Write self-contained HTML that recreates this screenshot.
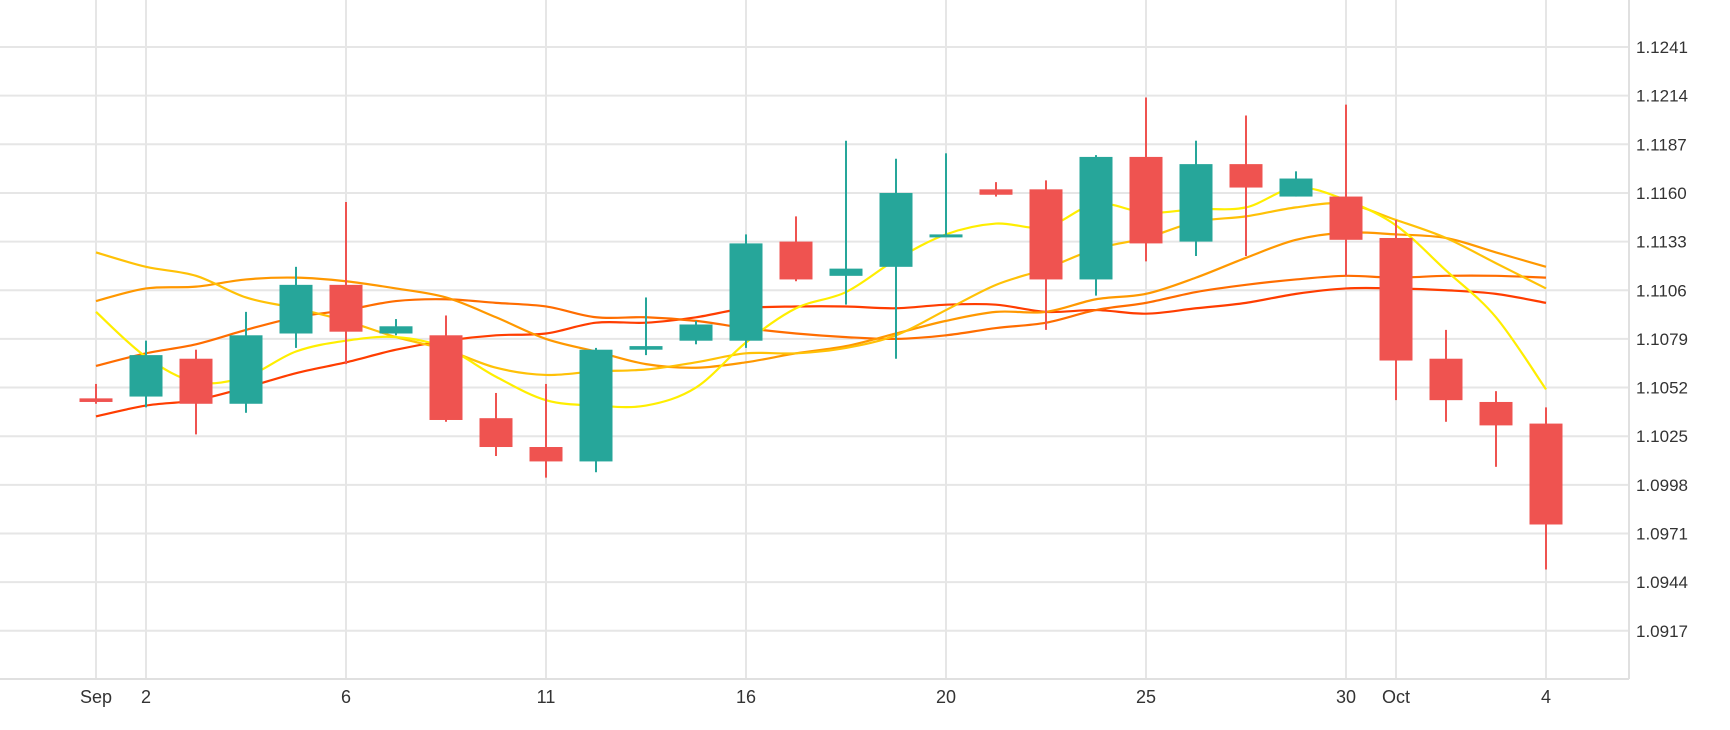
<!DOCTYPE html>
<html><head><meta charset="utf-8"><style>
html,body{margin:0;padding:0;background:#fff;}
svg{display:block;font-family:"Liberation Sans",sans-serif;}
</style></head><body>
<svg id="chart" width="1730" height="730" viewBox="0 0 1730 730" xmlns="http://www.w3.org/2000/svg">
<g id="grid"></g>
<g id="lines"></g>
<g id="candles"></g>
<g id="axes"></g>
</svg>
<script>
const xLabels = {0:"Sep",1:"2",5:"6",9:"11",13:"16",17:"20",21:"25",25:"30",26:"Oct",29:"4"};
const yTicks = [1.1241,1.1214,1.1187,1.1160,1.1133,1.1106,1.1079,1.1052,1.1025,1.0998,1.0971,1.0944,1.0917];
const opens  = [1.1046,1.1047,1.1068,1.1043,1.1082,1.1109,1.1082,1.1081,1.1035,1.1019,1.1011,1.1073,1.1078,1.1078,1.1133,1.1114,1.1119,1.1136,1.1162,1.1162,1.1112,1.1180,1.1133,1.1176,1.1158,1.1158,1.1135,1.1068,1.1044,1.1032];
const highs  = [1.1054,1.1078,1.1073,1.1094,1.1119,1.1155,1.1090,1.1092,1.1049,1.1054,1.1074,1.1102,1.1089,1.1137,1.1147,1.1189,1.1179,1.1182,1.1166,1.1167,1.1181,1.1213,1.1189,1.1203,1.1172,1.1209,1.1145,1.1084,1.1050,1.1041];
const lows   = [1.1043,1.1041,1.1026,1.1038,1.1074,1.1065,1.1081,1.1033,1.1014,1.1002,1.1005,1.1070,1.1076,1.1074,1.1111,1.1098,1.1068,1.1136,1.1158,1.1084,1.1103,1.1122,1.1125,1.1125,1.1158,1.1114,1.1045,1.1033,1.1008,1.0951];
const closes = [1.1044,1.1070,1.1043,1.1081,1.1109,1.1083,1.1086,1.1034,1.1019,1.1011,1.1073,1.1075,1.1087,1.1132,1.1112,1.1118,1.1160,1.1137,1.1159,1.1112,1.1180,1.1132,1.1176,1.1163,1.1168,1.1134,1.1067,1.1045,1.1031,1.0976];
const maYellow = [1.1094,1.1069,1.1055,1.1058,1.1072,1.1078,1.1080,1.1074,1.1058,1.1045,1.1042,1.1042,1.1052,1.1077,1.1096,1.1105,1.1123,1.1137,1.1143,1.1141,1.1154,1.1149,1.1151,1.1152,1.1163,1.1156,1.1142,1.1117,1.1091,1.1051];
const maAmber  = [1.1127,1.1119,1.1114,1.1102,1.1096,1.1089,1.1080,1.1073,1.1063,1.1059,1.1061,1.1062,1.1066,1.1071,1.1071,1.1074,1.1081,1.1095,1.1109,1.1118,1.1129,1.1135,1.1144,1.1147,1.1152,1.1154,1.1145,1.1135,1.1121,1.1107];
const maOrange = [1.1100,1.1107,1.1108,1.1112,1.1113,1.1111,1.1107,1.1102,1.1091,1.1079,1.1072,1.1065,1.1063,1.1066,1.1071,1.1075,1.1082,1.1089,1.1094,1.1094,1.1101,1.1104,1.1113,1.1124,1.1134,1.1138,1.1137,1.1135,1.1127,1.1119];
const maDark   = [1.1064,1.1071,1.1076,1.1084,1.1091,1.1095,1.1100,1.1101,1.1099,1.1097,1.1091,1.1091,1.1089,1.1085,1.1082,1.1080,1.1079,1.1081,1.1085,1.1088,1.1095,1.1099,1.1105,1.1109,1.1112,1.1114,1.1113,1.1114,1.1114,1.1113];
const maRed    = [1.1036,1.1042,1.1045,1.1052,1.1060,1.1066,1.1073,1.1078,1.1081,1.1082,1.1088,1.1088,1.1091,1.1096,1.1097,1.1097,1.1096,1.1098,1.1098,1.1094,1.1095,1.1093,1.1096,1.1099,1.1104,1.1107,1.1107,1.1106,1.1104,1.1099];

const NS="http://www.w3.org/2000/svg";
const X0=96, STEP=50, RIGHT=1629, BOTTOM=679;
const x = i => X0 + STEP*i;
const y = p => 47 + (1.1241 - p)/0.0027*48.65;
function mk(tag, attrs, parent){const e=document.createElementNS(NS,tag);for(const k in attrs)e.setAttribute(k,attrs[k]);parent.appendChild(e);return e;}
const grid=document.getElementById('grid'), axes=document.getElementById('axes'), lines=document.getElementById('lines'), candles=document.getElementById('candles');

yTicks.forEach(t=>{
  const l=mk('line',{x1:0,x2:RIGHT,y1:y(t),y2:y(t),stroke:'#e6e6e6','stroke-width':2},grid);
  
  
  const tx=mk('text',{x:1636,y:y(t)+6,'font-size':17,fill:'#333'},axes);
  tx.textContent=t.toFixed(4);
  
  
});
Object.keys(xLabels).forEach(k=>{
  const i=+k;
  const l=mk('line',{x1:x(i),x2:x(i),y1:0,y2:BOTTOM,stroke:'#e6e6e6','stroke-width':2},grid);
  
  
  const tx=mk('text',{x:x(i),y:703,'font-size':18,fill:'#333','text-anchor':'middle'},axes);
  tx.textContent=xLabels[k];
  
  
});
const ax1=mk('line',{x1:RIGHT,x2:RIGHT,y1:0,y2:BOTTOM,stroke:'#e0e0e0','stroke-width':2},axes);


const ax2=mk('line',{x1:0,x2:RIGHT,y1:BOTTOM,y2:BOTTOM,stroke:'#e0e0e0','stroke-width':2},axes);



function smooth(vals){
  const pts=vals.map((v,i)=>[x(i),y(v)]);
  let d=`M${pts[0][0]},${pts[0][1]}`;
  for(let i=0;i<pts.length-1;i++){
    const p0=pts[Math.max(0,i-1)],p1=pts[i],p2=pts[i+1],p3=pts[Math.min(pts.length-1,i+2)];
    const c1=[p1[0]+(p2[0]-p0[0])/6,p1[1]+(p2[1]-p0[1])/6];
    const c2=[p2[0]-(p3[0]-p1[0])/6,p2[1]-(p3[1]-p1[1])/6];
    d+=` C${c1[0]},${c1[1]} ${c2[0]},${c2[1]} ${p2[0]},${p2[1]}`;
  }
  return d;
}
[[maRed,'#ff3d00','ma-red-line'],[maDark,'#ff6d00','ma-dark-orange-line'],[maOrange,'#ff9800','ma-orange-line'],[maAmber,'#ffc107','ma-amber-line'],[maYellow,'#ffee00','ma-yellow-line']].forEach(([v,c,n])=>{
  const p=mk('path',{d:smooth(v),fill:'none',stroke:c,'stroke-width':2.2},lines);
  
  
});

opens.forEach((o,i)=>{
  const c=closes[i], up=c>=o, col=up?'#26a69a':'#ef5350';
  const g=mk('g',{},candles);
  
  
  mk('line',{x1:x(i),x2:x(i),y1:y(highs[i]),y2:y(lows[i]),stroke:col,'stroke-width':2},g);
  const top=y(Math.max(o,c)), h=Math.max(3,Math.abs(y(o)-y(c)));
  mk('rect',{x:x(i)-16.5,y:top,width:33,height:h,fill:col},g);
});
</script>
</body></html>
